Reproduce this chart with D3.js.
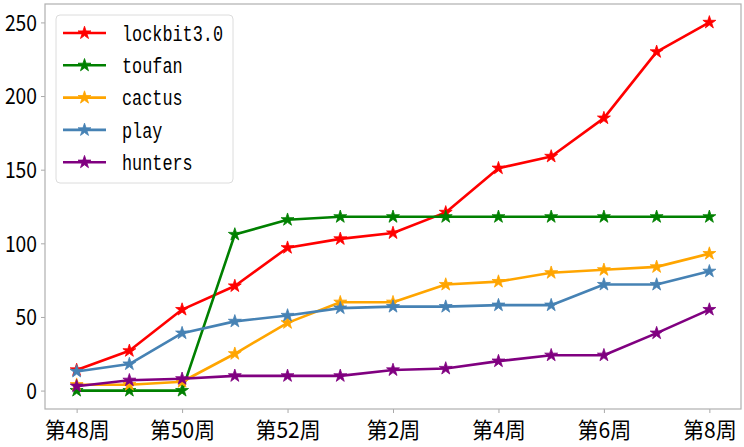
<!DOCTYPE html>
<html><head><meta charset="utf-8">
<script src="https://cdn.jsdelivr.net/npm/d3@7"></script>
<style>body{margin:0;background:#fff}svg{display:block}</style>
</head><body><svg id="c" width="744" height="447"></svg>
<script>
const weeks = ["第48周","第49周","第50周","第51周","第52周","第1周","第2周","第3周","第4周","第5周","第6周","第7周","第8周"];
const yTicks = [0,50,100,150,200,250];
const seriesNames = ["lockbit3.0","toufan","cactus","play","hunters"];
const seriesColors = ["#ff0000","#008000","#ffa500","#4682b4","#800080"];
const lockbit = [14,27,55,71,97,103,107,121,151,159,185,230,250];
const toufan  = [0,0,0,106,116,118,118,118,118,118,118,118,118];
const cactus  = [4,4,6,25,46,60,60,72,74,80,82,84,93];
const play    = [13,18,39,47,51,56,57,57,58,58,72,72,81];
const hunters = [3,7,8,10,10,10,14,15,20,24,24,39,55];
const seriesValues = [lockbit,toufan,cactus,play,hunters];

const svg = d3.select("#c");
const L=45, R=741, T=4, B=409;
const x = d3.scaleLinear().domain([-0.6, 12.6]).range([L,R]);
const y = d3.scaleLinear().domain([-12.5, 262.5]).range([B,T]);
const font = "'Noto Sans CJK SC', sans-serif";

function starPath(r){
  const ri = r*0.381966; let p="";
  for(let i=0;i<10;i++){
    const a = -Math.PI/2 + i*Math.PI/5;
    const rr = i%2===0 ? r : ri;
    p += (i?"L":"M") + (rr*Math.cos(a)).toFixed(2) + "," + (rr*Math.sin(a)).toFixed(2);
  }
  return p+"Z";
}

// axes
const xAxis = d3.axisBottom(x).tickValues(d3.range(0,13,2)).tickFormat(i=>weeks[i]).tickSize(4).tickSizeOuter(0);
const gx = svg.append("g").attr("transform",`translate(0,${B})`).call(xAxis);
const yAxis = d3.axisLeft(y).tickValues(yTicks).tickSize(4).tickSizeOuter(0);
const gy = svg.append("g").attr("transform",`translate(${L},0)`).call(yAxis);
[gx,gy].forEach(g=>{
  g.select(".domain").remove();
  g.selectAll(".tick line").attr("stroke","#aaa").attr("stroke-width",1);
  g.selectAll("text").attr("fill","#000").style("font-family",font).style("font-size","22px");
});
gx.selectAll("text").attr("y",21).attr("dy","0.35em")
  .attr("textLength",function(){ const t=this.textContent; return (t.length-2)*11.2+2*21.3; })
  .attr("lengthAdjust","spacingAndGlyphs");
gy.selectAll("text").attr("x",-8).attr("dy","0.35em")
  .attr("textLength",function(){ return this.textContent.length*10.7; })
  .attr("lengthAdjust","spacingAndGlyphs");

svg.append("rect").attr("x",L).attr("y",T).attr("width",R-L).attr("height",B-T)
  .attr("fill","none").attr("stroke","#b0b0b0").attr("stroke-width",1.2);

const line = d3.line().x((d,i)=>x(i)).y(d=>y(d));
seriesValues.forEach((vals,k)=>{
  const g = svg.append("g");
  g.append("path").attr("d",line(vals)).attr("fill","none").attr("stroke",seriesColors[k]).attr("stroke-width",2.6).attr("stroke-linejoin","round");
  g.selectAll("path.m").data(vals).enter().append("path").attr("class","m")
    .attr("d",starPath(6.8)).attr("transform",(d,i)=>`translate(${x(i)},${y(d)})`)
    .attr("fill",seriesColors[k]).attr("stroke",seriesColors[k]).attr("stroke-width",0.8);
});

// legend
const lg = svg.append("g");
lg.append("rect").attr("x",56).attr("y",15).attr("width",177).attr("height",168).attr("rx",4)
  .attr("fill","#fff").attr("fill-opacity",0.85).attr("stroke","#dcdcdc");
seriesNames.forEach((n,k)=>{
  const yy = 33 + k*32.3;
  lg.append("line").attr("x1",63).attr("x2",106).attr("y1",yy).attr("y2",yy).attr("stroke",seriesColors[k]).attr("stroke-width",2.6);
  lg.append("path").attr("d",starPath(6.8)).attr("transform",`translate(84.5,${yy})`).attr("fill",seriesColors[k]).attr("stroke",seriesColors[k]).attr("stroke-width",0.8);
  lg.append("text").attr("x",122).attr("y",yy).attr("dy","0.35em").text(n)
    .style("font-family","'Liberation Mono', 'DejaVu Sans Mono', monospace").style("font-size","22px")
    .attr("textLength", n.length*10.1).attr("lengthAdjust","spacingAndGlyphs");
});
</script></body></html>
